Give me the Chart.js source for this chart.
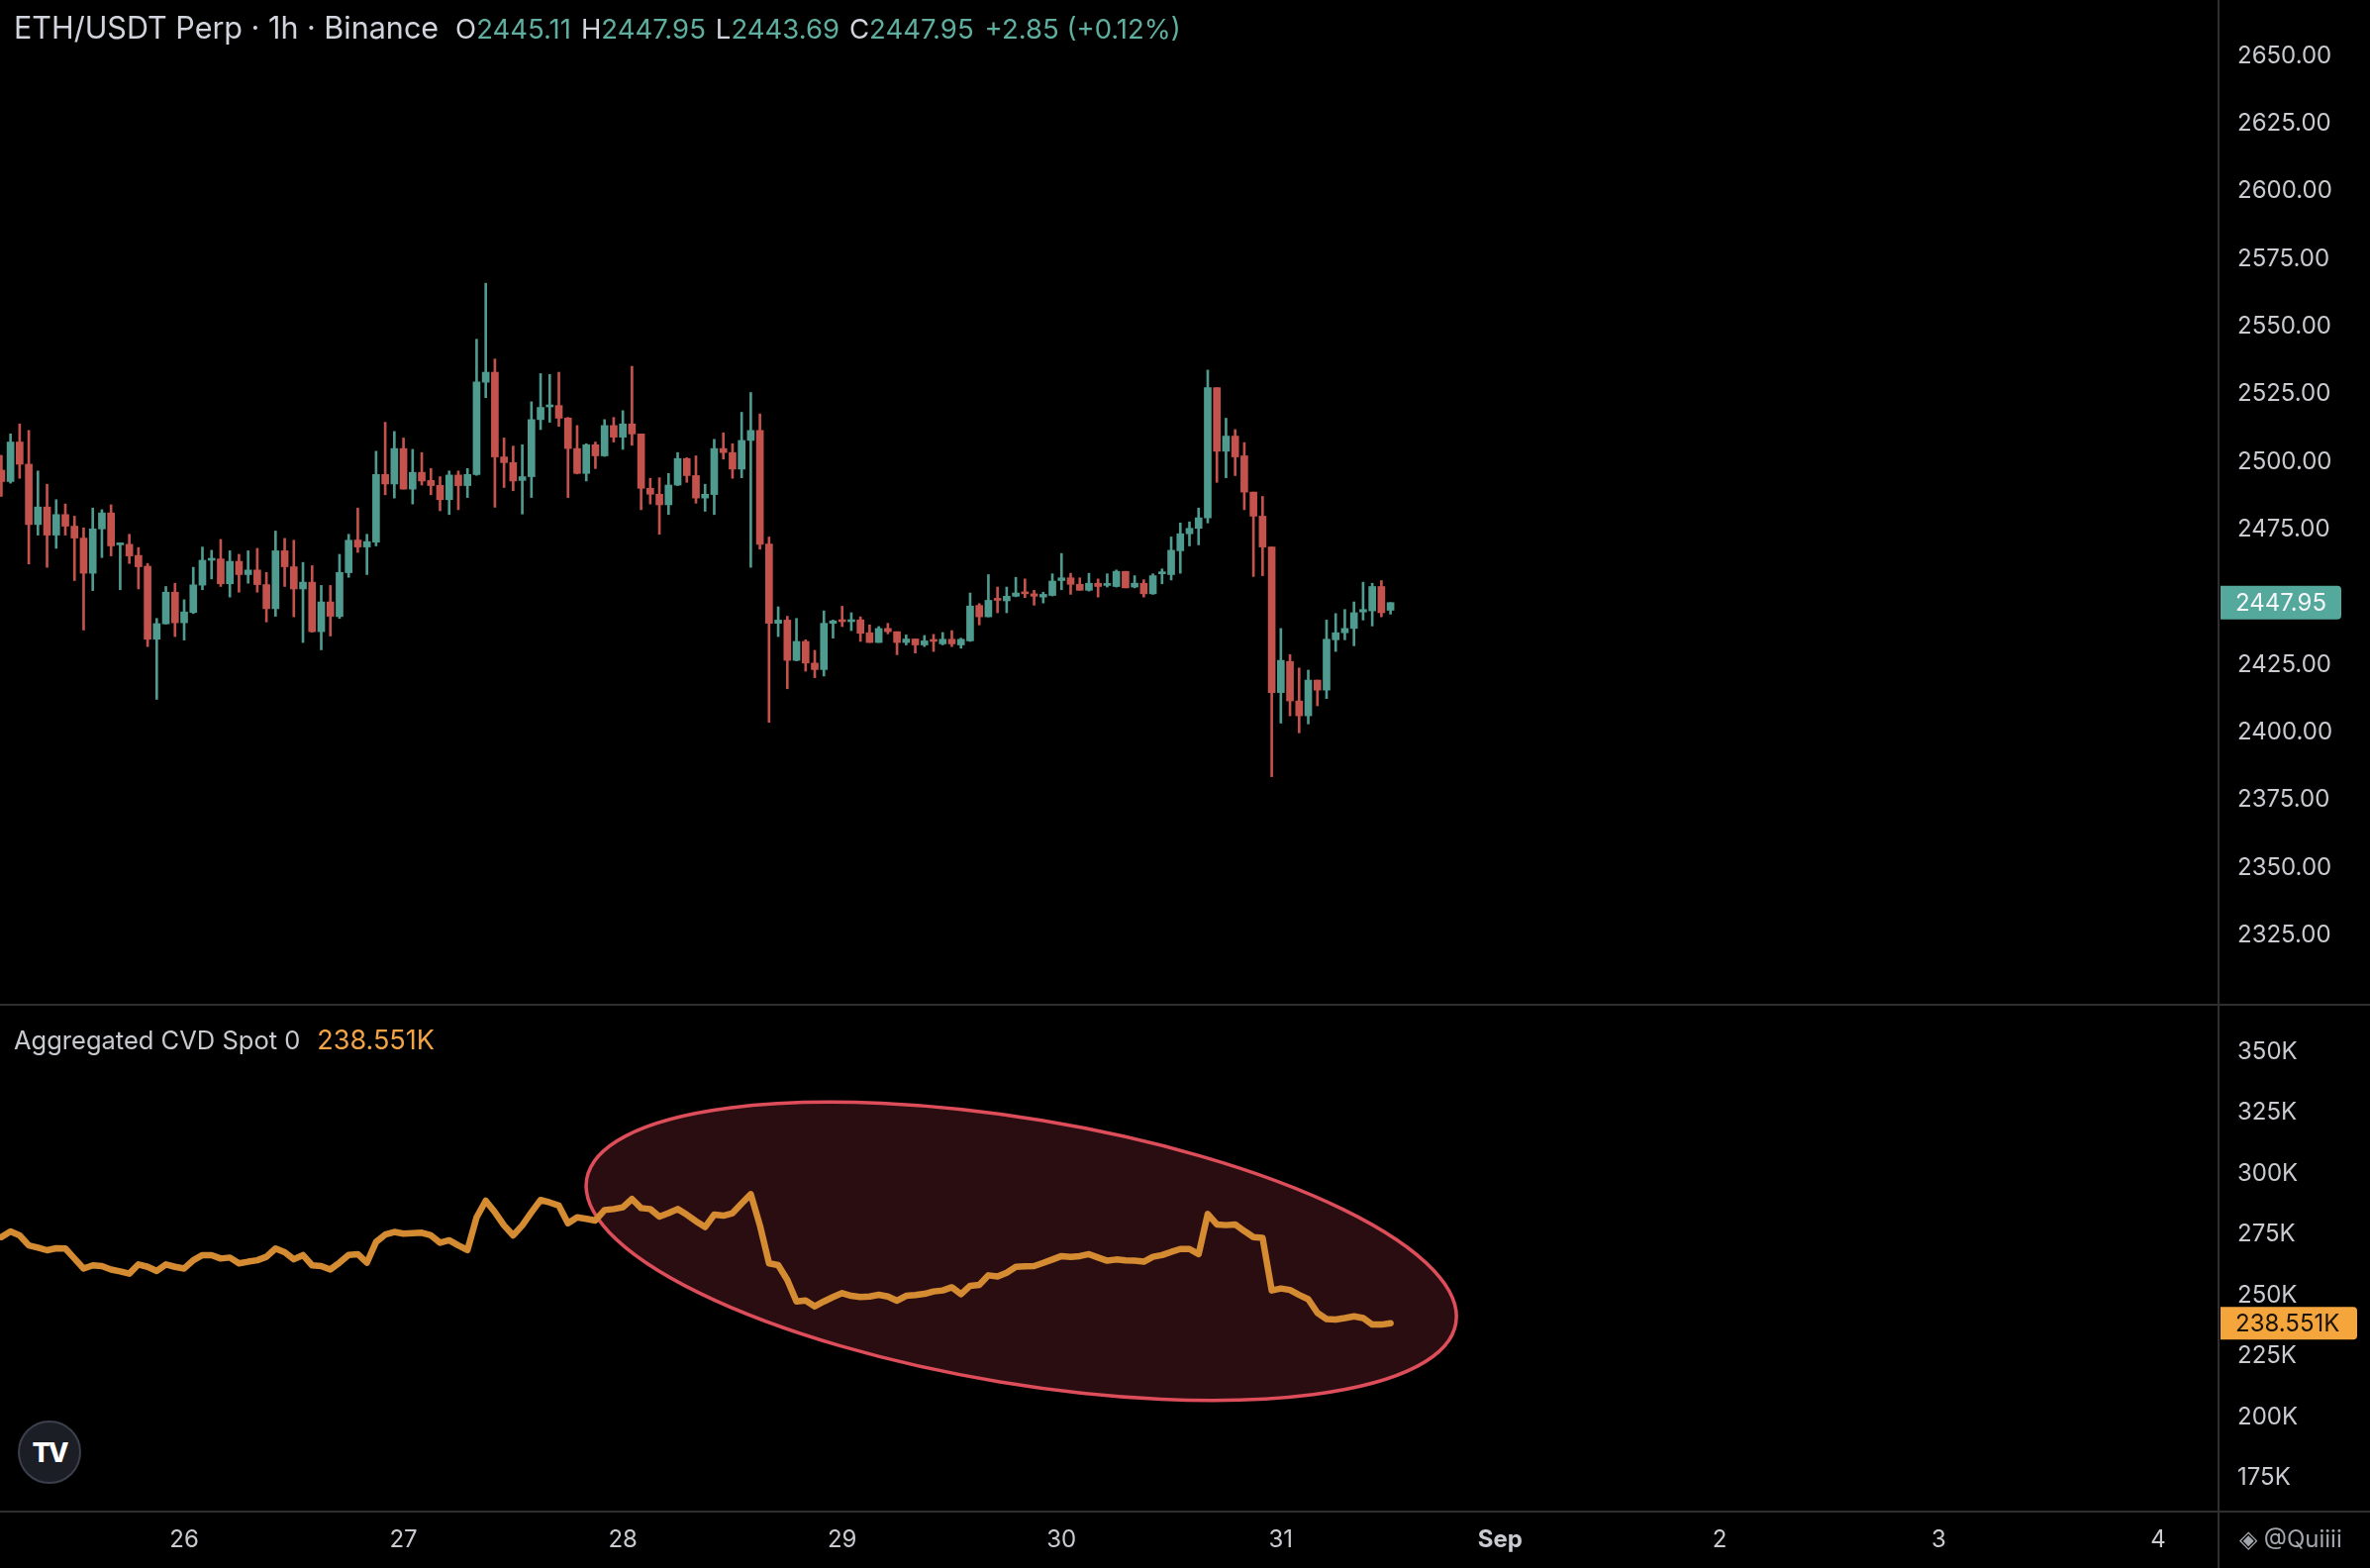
<!DOCTYPE html>
<html>
<head>
<meta charset="utf-8">
<script src="https://cdn.jsdelivr.net/npm/chart.js@4.4.1/dist/chart.umd.min.js"></script>
<style>
html, body { margin: 0; padding: 0; background: #000; }
#wrap { position: relative; width: 2394px; height: 1584px; overflow: hidden; background: #000; font-family: Inter, "Noto Sans", sans-serif; }
#pricePane { position: absolute; left: 0; top: 0; width: 2394px; height: 1015px; }
#cvdPane { position: absolute; left: 0; top: 1015px; width: 2394px; height: 569px; }
.hline { position: absolute; left: 0; width: 2394px; height: 2px; background: #2f2f2f; }
.vline { position: absolute; top: 0; left: 2240px; width: 2px; height: 1584px; background: #2f2f2f; }
#title { position: absolute; left: 14px; top: 9px; font-size: 30.5px; color: #d1d4dc; white-space: nowrap; }
#title .k { color: #d1d4dc; margin-left: 10px; font-size: 27.5px; }
#title .k:first-of-type { margin-left: 17px; }
#title .v { color: #5fae9f; font-size: 27.5px; }
#cvdTitle { position: absolute; left: 14px; top: 1034px; font-size: 25.5px; color: #c8cad0; white-space: nowrap; }
#cvdTitle .v { color: #f3a447; margin-left: 17px; font-size: 27px; }
#logo { position: absolute; left: 18px; top: 1435px; width: 64px; height: 64px; border-radius: 50%; background: #1b1e25; border: 2px solid #3b404c; color: #fff; font-weight: 800; font-size: 27px; display: flex; align-items: center; justify-content: center; letter-spacing: -2px; box-sizing: border-box; }
#mark { position: absolute; left: 2262px; top: 1540px; font-size: 24px; color: #a3a6ad; white-space: nowrap; }
</style>
</head>
<body>
<div id="wrap">
  <div id="pricePane"><canvas id="priceChart"></canvas></div>
  <div id="cvdPane"><canvas id="cvdChart"></canvas></div>
  <div class="hline" style="top:1014px"></div>
  <div class="hline" style="top:1526px"></div>
  <div class="vline"></div>
  <div id="title">ETH/USDT Perp · 1h · Binance<span class="k">O</span><span class="v">2445.11</span><span class="k">H</span><span class="v">2447.95</span><span class="k">L</span><span class="v">2443.69</span><span class="k">C</span><span class="v">2447.95</span><span class="v" style="margin-left:11px">+2.85 (+0.12%)</span></div>
  <div id="cvdTitle">Aggregated CVD Spot 0<span class="v">238.551K</span></div>
  <div id="logo">TV</div>
  <div id="mark">◈ @Quiiii</div>
</div>
<script>
// hourly candles, first one at 25 Aug 04:00 (hour -20 from 26 Aug 00:00)
var firstHour = -20;

var opens = [2496.9,2492.7,2507.3,2499.1,2476.8,2483.3,2472.9,2480.5,2476.2,2471.8,
  2458.8,2475.2,2481.1,2469.3,2469.5,2465.4,2461.4,2434.4,2440.1,2451.8,
  2440.5,2444.3,2454.4,2463.6,2464.1,2454.9,2463.2,2458.3,2460.0,2454.6,
  2445.7,2467.1,2461.2,2453.0,2455.5,2437.2,2448.2,2442.8,2459.0,2471.1,
  2468.5,2470.3,2495.3,2491.8,2504.9,2489.9,2496.1,2493.1,2491.3,2486.0,
  2495.1,2491.2,2495.3,2529.4,2533.1,2501.8,2499.7,2493.1,2494.5,2515.6,
  2520.3,2520.8,2516.2,2504.9,2495.7,2506.3,2502.2,2513.4,2509.1,2514.0,
  2510.3,2490.2,2488.0,2484.1,2491.4,2501.2,2494.9,2486.6,2487.9,2504.9,
  2503.4,2497.3,2507.9,2511.6,2469.6,2440.3,2441.5,2426.6,2433.6,2425.6,
  2423.2,2440.3,2441.5,2440.9,2441.6,2436.8,2433.2,2438.4,2437.2,2433.2,
  2434.5,2432.3,2434.2,2432.7,2434.4,2432.3,2433.8,2446.9,2442.7,2449.4,
  2448.6,2450.3,2451.8,2451.2,2450.0,2450.6,2456.1,2457.1,2454.7,2452.5,
  2455.1,2454.3,2453.9,2459.5,2453.7,2455.1,2451.2,2458.6,2458.3,2467.1,
  2473.4,2475.4,2479.3,2527.4,2503.9,2509.5,2502.2,2488.8,2479.9,2468.5,
  2414.7,2426.2,2411.6,2406.1,2419.3,2415.6,2434.2,2436.8,2438.4,2444.5,
  2444.9,2453.9,2445.11];
var highs = [2502.4,2510.3,2514.0,2511.6,2496.6,2491.7,2486.0,2484.4,2479.9,2475.6,
  2482.9,2482.3,2484.1,2469.8,2473.2,2468.3,2462.4,2442.1,2453.9,2455.1,
  2449.0,2461.0,2468.5,2467.3,2471.3,2467.1,2465.8,2467.1,2468.0,2459.1,
  2474.4,2471.7,2471.0,2462.8,2461.6,2454.3,2454.3,2465.8,2473.2,2482.9,
  2473.2,2503.9,2514.6,2511.2,2508.8,2504.6,2503.4,2497.5,2494.5,2496.6,
  2496.6,2497.5,2545.3,2566.0,2538.0,2508.8,2505.8,2506.3,2522.2,2532.6,
  2532.3,2533.1,2516.4,2513.4,2506.7,2507.3,2515.6,2516.4,2518.9,2535.3,
  2510.3,2493.9,2494.1,2495.7,2503.4,2501.5,2502.2,2491.7,2508.3,2510.7,
  2506.7,2518.3,2525.6,2517.7,2472.2,2446.4,2442.9,2442.1,2434.2,2430.3,
  2444.9,2441.5,2446.6,2444.2,2442.7,2439.7,2439.1,2440.3,2437.2,2436.0,
  2434.5,2435.8,2436.2,2436.9,2437.6,2434.8,2451.5,2447.6,2458.3,2453.7,
  2453.7,2457.3,2456.7,2452.5,2451.8,2458.6,2466.1,2458.8,2457.1,2458.8,
  2456.7,2458.6,2460.0,2459.5,2457.9,2456.4,2458.6,2460.4,2472.2,2477.4,
  2477.8,2482.9,2533.9,2527.4,2516.1,2511.9,2507.1,2488.8,2487.2,2468.5,
  2438.4,2428.7,2423.8,2423.0,2419.3,2441.5,2443.9,2445.4,2448.2,2455.5,
  2455.1,2456.1,2447.95];
var lows = [2487.2,2492.1,2493.9,2462.2,2472.9,2461.0,2468.0,2472.9,2456.1,2437.8,
  2452.4,2464.6,2465.2,2452.7,2462.4,2453.0,2431.7,2412.2,2440.0,2435.4,
  2434.1,2443.9,2452.7,2456.7,2453.9,2450.0,2451.8,2455.1,2451.8,2440.8,
  2442.9,2453.9,2442.7,2433.2,2437.0,2430.5,2435.6,2442.1,2457.3,2466.5,
  2458.3,2468.9,2487.8,2486.6,2489.9,2484.4,2491.4,2487.8,2481.9,2480.5,
  2482.3,2486.8,2495.0,2523.7,2483.2,2490.5,2489.3,2480.7,2486.8,2511.9,
  2514.6,2513.1,2486.8,2495.5,2492.9,2497.5,2502.0,2507.3,2504.6,2506.1,
  2482.3,2484.4,2473.2,2480.5,2491.2,2492.4,2484.7,2481.7,2480.5,2501.0,
  2493.9,2494.1,2461.0,2467.7,2403.7,2435.4,2416.1,2426.4,2422.6,2420.2,
  2420.8,2434.8,2439.1,2437.6,2433.6,2433.2,2433.2,2436.4,2428.7,2432.3,
  2429.3,2431.7,2429.9,2432.3,2431.7,2431.1,2433.6,2439.7,2442.7,2444.2,
  2444.2,2450.1,2449.8,2447.0,2447.8,2450.4,2452.7,2451.0,2452.5,2452.2,
  2450.0,2453.7,2453.7,2453.4,2453.4,2450.0,2451.0,2454.9,2456.3,2458.8,
  2468.9,2469.3,2477.4,2492.4,2494.1,2494.9,2482.3,2457.6,2457.9,2383.6,
  2403.4,2406.1,2399.8,2403.1,2409.8,2412.5,2429.9,2434.2,2432.0,2441.5,
  2439.3,2442.7,2443.69];
var closes = [2492.7,2507.3,2499.1,2476.8,2483.3,2472.9,2480.5,2476.2,2471.8,2458.8,
  2475.2,2481.1,2468.9,2469.7,2465.2,2461.2,2434.4,2440.2,2451.8,2440.5,
  2444.5,2454.5,2463.6,2464.3,2454.9,2463.2,2458.3,2460.0,2454.6,2445.7,
  2467.1,2461.2,2453.0,2455.5,2437.2,2448.2,2442.9,2459.1,2471.0,2468.5,
  2470.5,2495.3,2491.8,2504.9,2489.9,2496.1,2492.9,2491.2,2486.0,2495.1,
  2491.2,2495.3,2529.5,2533.1,2501.8,2499.7,2492.9,2494.5,2515.6,2520.1,
  2520.9,2516.1,2504.9,2495.7,2506.3,2502.2,2513.4,2509.1,2514.0,2510.3,
  2490.2,2488.0,2484.1,2491.4,2501.2,2494.9,2486.6,2488.0,2504.9,2503.4,
  2497.3,2507.9,2511.6,2469.5,2440.3,2441.5,2426.6,2433.6,2425.6,2423.2,
  2440.3,2441.2,2440.9,2441.5,2436.6,2433.2,2438.4,2437.2,2433.2,2434.5,
  2432.3,2433.8,2433.6,2434.4,2432.7,2434.4,2446.7,2442.7,2448.8,2448.8,
  2450.3,2451.5,2451.2,2450.3,2451.0,2455.9,2457.1,2454.7,2452.5,2455.1,
  2453.9,2454.9,2459.5,2453.4,2455.1,2451.2,2457.9,2459.2,2467.3,2473.4,
  2475.4,2479.3,2527.4,2503.9,2509.5,2501.8,2488.8,2479.9,2468.5,2414.7,
  2426.6,2411.6,2406.1,2419.3,2415.6,2434.4,2436.8,2438.4,2444.2,2445.4,
  2453.9,2444.2,2447.95];

// Aggregated CVD Spot, thousands, one value per candle
var cvd = [273.9,276.2,274.6,270.5,269.6,268.5,269.3,269.2,265.1,261.0,
  262.3,262.0,260.6,259.8,258.9,262.7,261.7,260.0,262.7,261.7,
  261.0,264.4,266.5,266.5,265.1,265.5,263.1,263.8,264.4,265.8,
  269.2,267.7,264.8,266.5,262.3,262.0,260.6,263.4,266.6,266.9,
  263.4,271.9,274.9,276.0,275.3,275.5,275.7,274.6,271.6,272.6,
  270.5,268.6,282.0,288.8,284.1,278.7,274.6,278.7,284.1,289.1,
  288.1,286.8,279.6,282.0,281.4,280.7,285.0,285.4,286.1,289.5,
  285.8,285.4,282.3,283.7,285.4,283.1,280.4,278.0,283.1,282.7,
  283.7,287.7,291.5,278.7,263.1,262.4,256.3,247.5,247.9,245.5,
  247.5,249.3,250.9,249.8,249.3,249.5,250.2,249.5,247.8,249.8,
  250.1,250.6,251.6,252.0,253.3,250.5,253.9,254.3,258.2,257.7,
  259.3,261.7,261.9,262.0,263.3,264.7,266.1,265.8,266.1,266.9,
  265.5,264.2,264.7,264.3,264.2,263.8,265.8,266.5,267.8,269.0,
  269.0,266.9,283.4,279.1,278.8,279.1,276.4,273.9,273.6,252.0,
  252.8,252.2,250.2,248.4,242.8,240.3,240.1,240.7,241.4,240.7,
  238.0,238.0,238.551];

var dayTicks = [0, 24, 48, 72, 96, 120, 144, 168, 192, 216];
var dayLabels = ['26', '27', '28', '29', '30', '31', 'Sep', '2', '3', '4'];
var priceTicks = [2325, 2350, 2375, 2400, 2425, 2450, 2475, 2500, 2525, 2550, 2575, 2600, 2625, 2650];
var cvdTicks = [175, 200, 225, 250, 275, 300, 325, 350];

var lastPrice = 2447.95;
var lastCvd = 238.551;

var upColor = '#4f9b8f';
var downColor = '#c4524d';
var axisText = '#c9cbd1';

Chart.defaults.font.family = 'Inter, "Noto Sans", sans-serif';
Chart.defaults.animation = false;

var hours = opens.map(function (o, i) { return firstHour + i; });
var candleColors = opens.map(function (o, i) { return closes[i] >= o ? upColor : downColor; });

var xMin = -20.15, xMax = 222.6;

function noPad(s) { s.paddingTop = 0; s.paddingBottom = 0; s.paddingLeft = 0; s.paddingRight = 0; }

function rightAxis(min, max, ticks, fmt) {
  return {
    position: 'right', min: min, max: max,
    grid: { display: false, drawTicks: false },
    border: { display: false },
    afterFit: function (s) { s.width = 153; noPad(s); },
    afterBuildTicks: function (s) { s.ticks = ticks.map(function (v) { return { value: v }; }); },
    ticks: { color: axisText, font: { size: 24 }, padding: 19, callback: fmt }
  };
}

var tagPlugin = {
  id: 'lastTag',
  afterDraw: function (chart, args, o) {
    var ys = chart.scales.y, ctx = chart.ctx;
    var yp = ys.getPixelForValue(o.value);
    ctx.save();
    ctx.fillStyle = o.bg;
    ctx.beginPath();
    ctx.roundRect(ys.left + 2, yp - o.h / 2, o.w, o.h, [0, 4, 4, 0]);
    ctx.fill();
    ctx.fillStyle = o.color;
    ctx.font = '24px Inter';
    ctx.textBaseline = 'middle';
    ctx.fillText(o.text, ys.left + 17, yp + 1);
    ctx.restore();
  }
};

// highlight ellipse drawn on the CVD pane
var ellipseCenter = { x: 91.6, y: 268.1 };
var ellipseHalfHours = 48.2, ellipseHalfK = 54.3, ellipseTiltDeg = 9.4;

var ellipsePlugin = {
  id: 'highlight',
  beforeDatasetsDraw: function (chart) {
    var xs = chart.scales.x, ys = chart.scales.y, ctx = chart.ctx;
    var cx = xs.getPixelForValue(ellipseCenter.x), cy = ys.getPixelForValue(ellipseCenter.y);
    var rx = xs.getPixelForValue(ellipseCenter.x + ellipseHalfHours) - cx;
    var ry = ys.getPixelForValue(ellipseCenter.y - ellipseHalfK) - cy;
    ctx.save();
    ctx.beginPath();
    ctx.ellipse(cx, cy, rx, ry, ellipseTiltDeg * Math.PI / 180, 0, Math.PI * 2);
    ctx.fillStyle = '#2a0d10';
    ctx.fill();
    ctx.lineWidth = 3.5;
    ctx.strokeStyle = '#dd4d5a';
    ctx.stroke();
    ctx.restore();
  }
};

new Chart(document.getElementById('priceChart'), {
  type: 'bar',
  data: {
    datasets: [{
      data: hours.map(function (h, i) { return { x: h, y: [lows[i], highs[i]] }; }),
      backgroundColor: candleColors, barThickness: 2, grouped: false, borderWidth: 0
    }, {
      data: hours.map(function (h, i) { return { x: h, y: [opens[i], closes[i]] }; }),
      backgroundColor: candleColors, barThickness: 7, grouped: false, borderWidth: 0, minBarLength: 2
    }]
  },
  options: {
    responsive: true, maintainAspectRatio: false,
    layout: { padding: 0, autoPadding: false },
    plugins: {
      legend: { display: false }, tooltip: { enabled: false },
      lastTag: { value: lastPrice, text: lastPrice.toFixed(2), bg: '#54a89c', color: '#f4f6f8', w: 122, h: 34 }
    },
    scales: {
      x: { type: 'linear', min: xMin, max: xMax, offset: false, display: false },
      y: rightAxis(2299.3, 2670.7, priceTicks, function (v) { return v.toFixed(2); })
    }
  },
  plugins: [tagPlugin]
});

new Chart(document.getElementById('cvdChart'), {
  type: 'line',
  data: {
    datasets: [{
      data: hours.map(function (h, i) { return { x: h, y: cvd[i] }; }),
      borderColor: '#d48b31', borderWidth: 6.5, pointRadius: 0, tension: 0, fill: false,
      borderJoinStyle: 'round', borderCapStyle: 'round'
    }]
  },
  options: {
    responsive: true, maintainAspectRatio: false,
    layout: { padding: 0, autoPadding: false },
    plugins: {
      legend: { display: false }, tooltip: { enabled: false },
      lastTag: { value: lastCvd, text: lastCvd.toFixed(3) + 'K', bg: '#f4a53c', color: '#1c1408', w: 138, h: 33 }
    },
    scales: {
      x: {
        type: 'linear', min: xMin, max: xMax, position: 'bottom',
        grid: { display: false, drawTicks: false },
        border: { display: false },
        afterFit: function (s) { s.height = 57; noPad(s); },
        afterBuildTicks: function (s) { s.ticks = dayTicks.map(function (v) { return { value: v }; }); },
        ticks: {
          color: axisText, padding: 14, maxRotation: 0, autoSkip: false,
          font: function (c) { return { size: 24, weight: dayLabels[c.index] === 'Sep' ? 'bold' : 'normal' }; },
          callback: function (v, i) { return dayLabels[i]; }
        }
      },
      y: rightAxis(161.3, 369.2, cvdTicks, function (v) { return v + 'K'; })
    }
  },
  plugins: [ellipsePlugin, tagPlugin]
});
</script>
</body>
</html>
